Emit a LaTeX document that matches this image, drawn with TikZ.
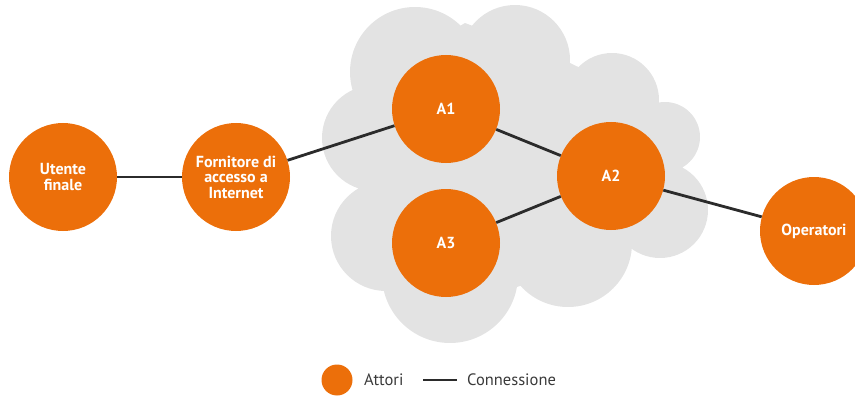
\documentclass[tikz,border=0pt]{standalone}
\usepackage{fontspec}
\setmainfont{PT Sans}
\definecolor{actor}{HTML}{EC6F0A}
\definecolor{cloudgray}{HTML}{E3E3E3}
\definecolor{linecol}{HTML}{2B2B2B}
\definecolor{legtext}{HTML}{3A3A3A}
\begin{document}
\begin{tikzpicture}[x=1pt,y=-1pt,
  actornode/.style={circle,fill=actor,minimum size=108pt,inner sep=0pt,align=center,
    text=white,font=\fontsize{16}{15.5}\selectfont\bfseries},
  conn/.style={draw=linecol,line width=2.8pt},
  legendtxt/.style={text=legtext,font=\fontsize{16.5}{18}\selectfont,anchor=west,inner sep=0pt}]
\useasboundingbox (0,0) rectangle (855,396);
\clip (0,0) rectangle (855,396);
% cloud
\fill[cloudgray] (375,138) circle (53) (415,72) circle (65) (515,60) circle (55)
  (612,100) circle (47) (665,137) circle (35) (660,210) circle (48)
  (568,243) circle (64) (450,275) circle (68) (386,236) circle (55);
\fill[cloudgray] (353,90) -- (465,23) -- (570,63) -- (653,103) -- (680,172)
  -- (633,247) -- (517,287) -- (383,290) -- (360,187) -- cycle;
% nodes
\node[actornode] (uf) at (63,177) {Utente\\finale};
\node[actornode] (fi) at (236,177) {Fornitore di\\accesso a\\Internet};
\node[actornode] (a1) at (446,109) {A1};
\node[actornode] (a2) at (611,176) {A2};
\node[actornode] (a3) at (446,243) {A3};
\node[actornode] (op) at (814,231) {Operatori};
\draw[conn] (uf) -- (fi);
\draw[conn] (fi) -- (a1);
\draw[conn] (a1) -- (a2);
\draw[conn] (a3) -- (a2);
\draw[conn] (a2) -- (op);
% legend
\node[circle,fill=actor,minimum size=31pt,inner sep=0pt] (lc) at (337,380) {};
\node[legendtxt] (lt1) at (364,380) {Attori};
\coordinate (l1) at (423,380);
\coordinate (l2) at (457,380);
\draw[conn] (l1) -- (l2);
\node[legendtxt] (lt2) at (467,380) {Connessione};
\end{tikzpicture}
\end{document}
